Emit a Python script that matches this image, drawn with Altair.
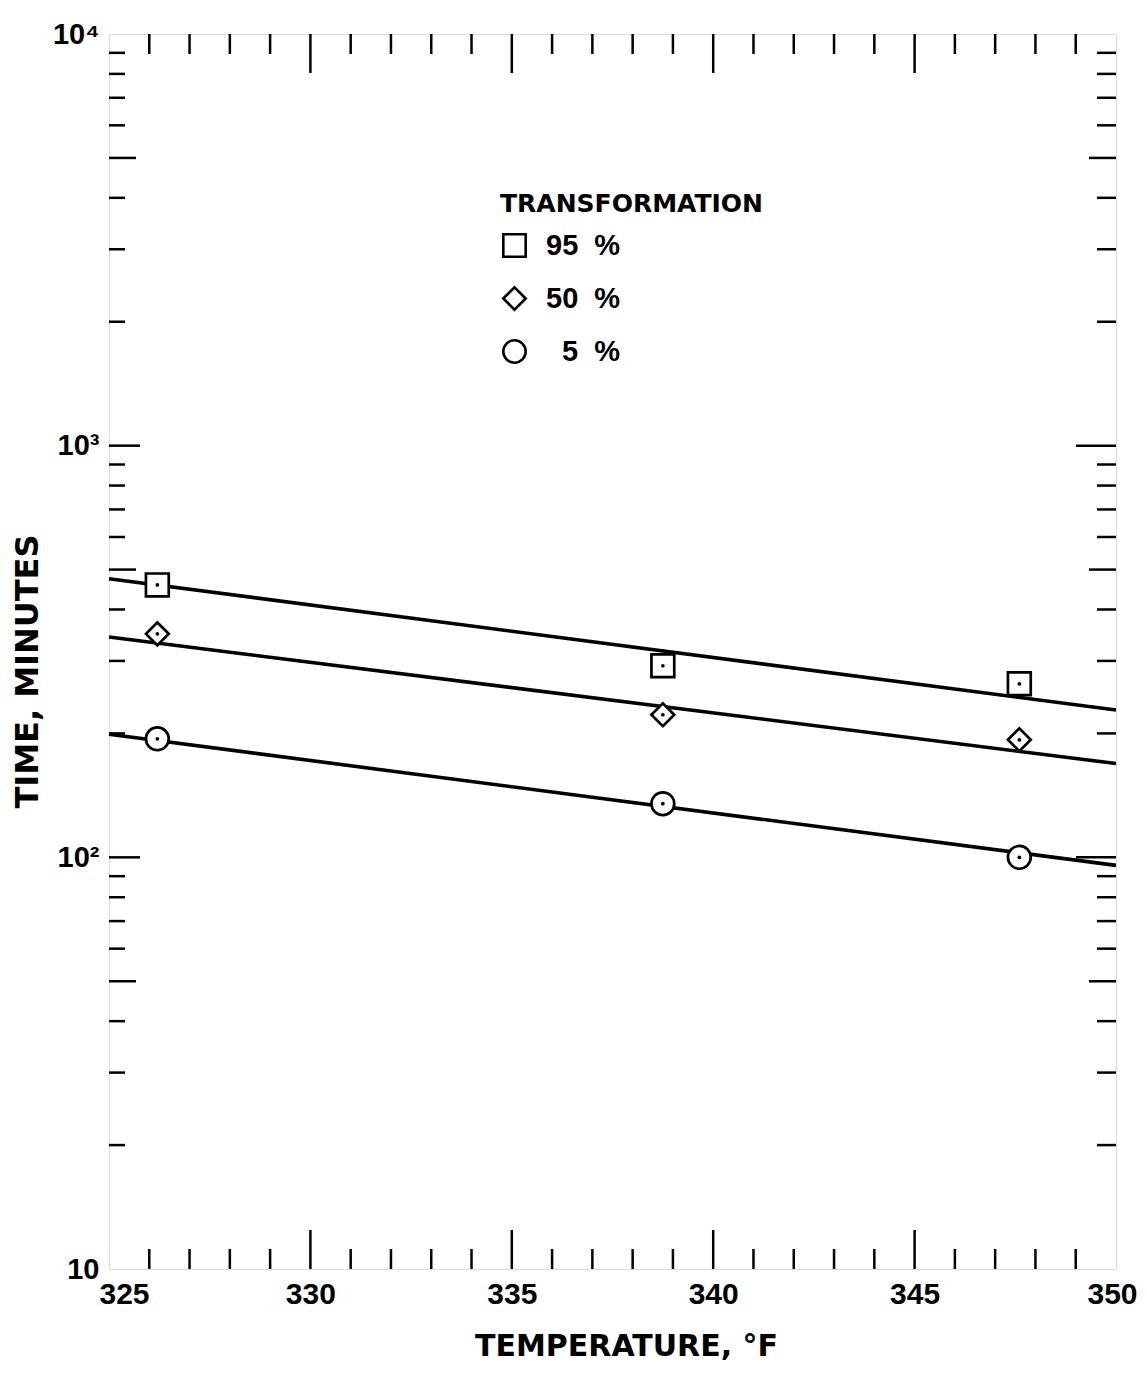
import altair as alt
import pandas as pd

# ---------------- data ----------------
series_names = ["95 %", "50 %", "5 %"]
series_shapes = ["square", "diamond", "circle"]
temps = [326.2, 338.75, 347.6]
time_95 = [459, 292, 264]
time_50 = [349, 222, 193]
time_05 = [194, 135, 100]

fit_temps = [325, 350]
fit_95 = [475, 228]
fit_50 = [343, 169]
fit_05 = [199, 95.6]

x_label_values = [325, 330, 335, 340, 345, 350]
x_minor_ticks = [326, 327, 328, 329, 331, 332, 333, 334, 336, 337, 338, 339,
                 341, 342, 343, 344, 346, 347, 348, 349]
x_major_ticks = [330, 335, 340, 345]
y_label_values = [10, 100, 1000, 10000]
y_minor_ticks = [20, 30, 40, 60, 70, 80, 90,
                 200, 300, 400, 600, 700, 800, 900,
                 2000, 3000, 4000, 6000, 7000, 8000, 9000]
y_mid_ticks = [50, 500, 5000]
y_major_ticks = [100, 1000]

W, H = 1007, 1235

pts = pd.DataFrame({
    "temp": temps * 3,
    "time": time_95 + time_50 + time_05,
    "series": [series_names[0]] * 3 + [series_names[1]] * 3 + [series_names[2]] * 3,
})
fits = pd.DataFrame({
    "temp": fit_temps * 3,
    "time": fit_95 + fit_50 + fit_05,
    "series": [series_names[0]] * 2 + [series_names[1]] * 2 + [series_names[2]] * 2,
})

xscale = alt.Scale(domain=[325, 350], nice=False, zero=False)
yscale = alt.Scale(type="log", domain=[10, 10000], nice=False)
shape_scale = alt.Scale(domain=series_names, range=series_shapes)

x_axis = alt.Axis(
    values=x_label_values, ticks=False, domain=False, grid=False,
    labelFont="Liberation Sans", labelFontSize=30, labelFontWeight="bold",
    labelColor="black", labelPadding=10, labelFlush=False,
    labelOffset={"condition": [{"test": "datum.value == 325", "value": 15},
                               {"test": "datum.value == 350", "value": -4}], "value": 0},
    title="TEMPERATURE, °F", titleFont="DejaVu Sans", titleFontSize=30,
    titleFontWeight="bold", titleColor="black", titlePadding=22, titleX=517,
)
y_axis = alt.Axis(
    values=y_label_values, ticks=False, domain=False, grid=False,
    labelExpr="datum.value == 10 ? '10' : datum.value == 100 ? '10²' : datum.value == 1000 ? '10³' : '10⁴'",
    labelFont="Liberation Sans", labelFontSize=29, labelFontWeight="bold",
    labelColor="black", labelPadding=10, labelFlush=False, labelOverlap=False,
    title="TIME, MINUTES", titleFont="DejaVu Sans", titleFontSize=32,
    titleFontWeight="bold", titleColor="black", titlePadding=8, titleY=637,
)

lines = alt.Chart(fits).mark_line(color="black", strokeWidth=3.6).encode(
    x=alt.X("temp:Q", scale=xscale, axis=x_axis),
    y=alt.Y("time:Q", scale=yscale, axis=y_axis),
    detail="series:N",
)

shape_legend = alt.Legend(
    orient="none", legendX=391, legendY=158,
    title="TRANSFORMATION", titleFont="DejaVu Sans", titleFontSize=25,
    titleFontWeight="bold", titleColor="black", titlePadding=14, titleLimit=500,
    labelFont="Liberation Sans", labelFontSize=29, labelFontWeight="bold",
    labelColor="black", labelOffset=17, rowPadding=20, labelLimit=300,
    labelExpr="(length(datum.label) < 4 ? '\u200b\u00a0\u00a0' : '') + replace(datum.label, ' ', '\u00a0\u00a0')",
    symbolStrokeColor="black", symbolStrokeWidth=2.6, symbolOpacity=1,
    symbolSize=500,
)

# white backing so the lines do not show through the open symbols
backings = [
    alt.Chart(pts).transform_filter(alt.datum.series == name)
    .mark_point(filled=True, color="white", size=520, opacity=1, shape=shp)
    .encode(x=alt.X("temp:Q", scale=xscale), y=alt.Y("time:Q", scale=yscale))
    for name, shp in zip(series_names, series_shapes)
]

symbols = alt.Chart(pts).mark_point(
    filled=False, color="black", strokeWidth=2.7, size=520, opacity=1
).encode(
    x=alt.X("temp:Q", scale=xscale),
    y=alt.Y("time:Q", scale=yscale),
    shape=alt.Shape("series:N", sort=series_names, scale=shape_scale, legend=shape_legend),
)

dots = alt.Chart(pts).mark_point(filled=True, color="black", size=14, opacity=1, shape="circle").encode(
    x=alt.X("temp:Q", scale=xscale),
    y=alt.Y("time:Q", scale=yscale),
)


def xticks(values, length):
    d = pd.DataFrame({"v": values})
    bottom = alt.Chart(d).mark_rule(color="black", strokeWidth=2.5).encode(
        x=alt.X("v:Q", scale=xscale), y=alt.value(H), y2=alt.value(H - length))
    top = alt.Chart(d).mark_rule(color="black", strokeWidth=2.5).encode(
        x=alt.X("v:Q", scale=xscale), y=alt.value(0), y2=alt.value(length))
    return [bottom, top]


def yticks(values, left_len, right_len):
    d = pd.DataFrame({"v": values})
    left = alt.Chart(d).mark_rule(color="black", strokeWidth=2.5).encode(
        y=alt.Y("v:Q", scale=yscale), x=alt.value(0), x2=alt.value(left_len))
    right = alt.Chart(d).mark_rule(color="black", strokeWidth=2.5).encode(
        y=alt.Y("v:Q", scale=yscale), x=alt.value(W), x2=alt.value(W - right_len))
    return [left, right]


tick_layers = (
    xticks(x_minor_ticks, 20) + xticks(x_major_ticks, 39)
    + yticks(y_minor_ticks, 16, 19) + yticks(y_mid_ticks, 27, 27)
    + yticks(y_major_ticks, 31, 40)
)

chart = alt.layer(lines, *tick_layers, *backings, symbols, dots).properties(
    width=W, height=H,
    autosize=alt.AutoSizeParams(type="none"),
    padding={"left": 101, "top": 26, "right": 23, "bottom": 99},
).configure_view(stroke="black", strokeWidth=3.2).configure(background="white")

chart.save("out.html", embed_options={"renderer": "svg", "actions": False})
